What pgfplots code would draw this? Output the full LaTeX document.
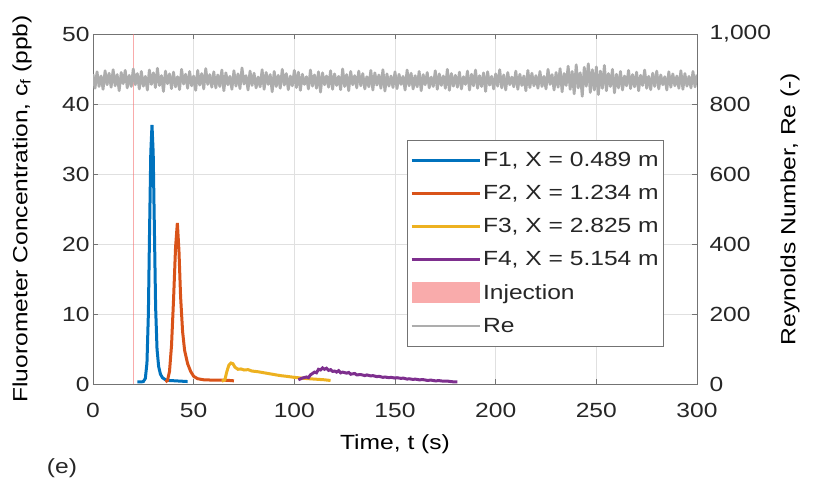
\documentclass[border=0pt]{standalone}
\usepackage{fontspec}
\setmainfont{Liberation Sans}[FakeStretch=1.2]
\usepackage{pgfplots}
\pgfplotsset{compat=1.18}
\definecolor{cF1}{rgb}{0,0.447,0.741}
\definecolor{cF2}{rgb}{0.85,0.325,0.098}
\definecolor{cF3}{rgb}{0.929,0.694,0.125}
\definecolor{cF4}{rgb}{0.494,0.184,0.556}
\definecolor{cRe}{rgb}{0.68,0.68,0.68}
\definecolor{cInj}{rgb}{0.96,0.45,0.45}
\newcommand{\fnt}{\fontsize{20.5}{24}\selectfont}
\pgfplotsset{
  lineleg/.style={legend image code/.code={\draw[##1] (0pt,0pt) -- (68pt,0pt);}},
  injleg/.style={legend image code/.code={\fill[##1] (0pt,-10pt) rectangle (68pt,11pt);}},
}
\begin{document}
\begin{tikzpicture}[font=\fnt]
\path[use as bounding box] (-93pt,-97pt) rectangle (733pt,384pt);
% ---------- left axis: concentrations ----------
\begin{axis}[
  at={(0pt,0pt)}, anchor=south west,
  scale only axis, width=604pt, height=350pt,
  xmin=0, xmax=300, ymin=0, ymax=50,
  xtick={0,50,...,300}, ytick={0,10,...,50},
  ytick pos=left,
  tick align=inside, major tick length=5pt,
  grid=major, grid style={black!12, line width=0.6pt},
  axis line style={black!55, line width=0.8pt},
  tick style={black!55, line width=0.8pt},
  tick label style={font=\fnt, text=black!85},
  label style={font=\fnt, text=black!85},
  /pgf/number format/assume math mode=true,
  xticklabel style={yshift=-16pt},
  xlabel={Time, t (s)},
  ylabel={Fluorometer Concentration, c$_\mathrm{f}$ (ppb)},
  every axis x label/.style={at={(axis description cs:0.5,-0.171)}, anchor=center},
  every axis y label/.style={at={(axis description cs:-0.1175,0.5)}, rotate=90, anchor=center},
  legend style={at={(0.9455,0.697)}, anchor=north east, draw=black!55, line width=0.7pt,
    fill=white, font=\fnt, text=black!85, row sep=13.2pt, inner xsep=3pt, inner ysep=10pt},
  legend cell align=left,
  lineleg,
  clip=true,
]
\addplot[cF1, line width=3pt] coordinates {
(22,0.3)(24,0.3)(25,0.35)(26,0.8)(26.8,3)(27.5,10)(28.1,22)(28.7,33)(29.3,37)(29.9,33)(30.5,22)(31.1,11)(31.8,5)(32.6,2.5)(33.5,1.4)(34.5,0.9)(36,0.6)(38,0.5)(41,0.45)(44,0.4)(47,0.35)};
\addlegendentry{F1, X = 0.489 m}
\addplot[cF2, line width=3pt] coordinates {
(36,0.3)(37,0.5)(38,1.8)(39,5.5)(40,12)(41,19.5)(41.9,23)(42.7,19)(43.5,12.5)(44.5,7.5)(45.5,4.8)(47,2.9)(48.5,1.8)(50,1.1)(52,0.75)(55,0.6)(60,0.55)(65,0.55)(68,0.5)(70,0.45)};
\addlegendentry{F2, X = 1.234 m}
\addplot[cF3, line width=3pt] coordinates {
(64,0.4)(65.5,0.6)(66.5,1.8)(67.5,2.7)(68.5,3.0)(69.5,2.9)(70.5,2.4)(72,2.1)(73.5,2.15)(75,2.0)(77,2.05)(79,1.85)(82,1.75)(84,1.65)(86,1.55)(88,1.45)(90,1.35)(93,1.2)(96,1.1)(100,0.95)(105,0.8)(110,0.7)(115,0.6)(118,0.5)};
\addlegendentry{F3, X = 2.825 m}
\addplot[cF4, line width=3pt] coordinates {
(102,0.6)(104,0.85)(106,1.0)(107,0.9)(108,1.3)(110,1.7)(111,1.6)(112,2.1)(113,2.0)(114,2.3)(115,2.1)(116,2.25)(117,1.95)(118,2.05)(119,1.8)(120,1.85)(121,1.7)(122,1.9)(123,1.6)(124,1.7)(126,1.55)(127,1.65)(128,1.4)(130,1.5)(131,1.3)(133,1.35)(135,1.2)(136,1.3)(138,1.15)(139,1.2)(141,1.05)(142,1.1)(144,0.95)(145,1.0)(147,0.9)(148,0.95)(150,0.85)(151,0.9)(153,0.8)(154,0.85)(156,0.7)(157,0.75)(159,0.65)(160,0.7)(162,0.6)(164,0.62)(166,0.52)(168,0.55)(170,0.45)(172,0.48)(174,0.4)(176,0.42)(178,0.33)(180,0.3)(181,0.3)};
\addlegendentry{F4, X = 5.154 m}
\addplot[fill=cInj, fill opacity=0.6, draw=none, injleg]
  coordinates {(19.8,0)(19.8,50)(20.5,50)(20.5,0)} -- cycle;
\addlegendentry{Injection}
\addlegendimage{cRe, line width=2pt}
\addlegendentry{Re}
\end{axis}
\node[anchor=center, text=black!85] at (-31pt,-84pt) {(e)};
% ---------- right axis: Reynolds number ----------
\begin{axis}[
  at={(0pt,0pt)}, anchor=south west,
  scale only axis, width=604pt, height=350pt,
  xmin=0, xmax=300, ymin=0, ymax=1000,
  axis x line=none,
  axis y line*=right,
  ytick={0,200,...,1000},
  tick align=inside, major tick length=5pt,
  axis line style={black!55, line width=0.8pt},
  tick style={black!55, line width=0.8pt},
  tick label style={font=\fnt, text=black!85},
  label style={font=\fnt, text=black!85},
  /pgf/number format/assume math mode=true,
  /pgf/number format/1000 sep={,},
  yticklabel style={xshift=9pt},
  ylabel={Reynolds Number, Re (-)},
  every axis y label/.style={at={(axis description cs:1.154,0.5)}, rotate=90, anchor=center},
]
\addplot[cRe, line width=2.8pt, line join=round] coordinates {
(0,885)(1,845)(2,892)(3,850)(4,880)(5,842)(6,895)(7,855)(8,888)(9,848)
(10,898)(11,852)(12,884)(13,838)(14,890)(15,858)(16,896)(17,846)(18,882)(19,850)
(20,900)(21,855)(22,887)(23,843)(24,893)(25,851)(26,879)(27,840)(28,897)(29,856)
(30,889)(31,847)(32,902)(33,853)(34,881)(35,836)(36,894)(37,858)(38,886)(39,844)
(40,891)(41,849)(42,878)(43,841)(44,899)(45,857)(46,885)(47,845)(48,893)(49,852)
(50,880)(51,839)(52,896)(53,854)(54,887)(55,843)(56,901)(57,856)(58,884)(59,848)
(60,892)(61,846)(62,883)(63,850)(64,897)(65,838)(66,889)(67,855)(68,879)(69,842)
(70,895)(71,851)(72,886)(73,844)(74,903)(75,857)(76,881)(77,840)(78,894)(79,853)
(80,888)(81,846)(82,877)(83,849)(84,898)(85,842)(86,890)(87,856)(88,884)(89,835)
(90,893)(91,850)(92,882)(93,845)(94,899)(95,854)(96,887)(97,841)(98,880)(99,852)
(100,896)(101,847)(102,891)(103,839)(104,885)(105,856)(106,878)(107,843)(108,897)(109,851)
(110,883)(111,845)(112,892)(113,834)(114,889)(115,855)(116,880)(117,848)(118,895)(119,842)
(120,886)(121,853)(122,879)(123,841)(124,900)(125,850)(126,884)(127,838)(128,893)(129,855)
(130,881)(131,846)(132,894)(133,852)(134,887)(135,843)(136,878)(137,849)(138,896)(139,840)
(140,889)(141,854)(142,883)(143,845)(144,898)(145,837)(146,886)(147,851)(148,880)(149,847)
(150,892)(151,844)(152,885)(153,856)(154,879)(155,840)(156,897)(157,852)(158,888)(159,843)
(160,881)(161,849)(162,893)(163,838)(164,884)(165,855)(166,890)(167,846)(168,877)(169,850)
(170,895)(171,842)(172,886)(173,853)(174,880)(175,845)(176,899)(177,839)(178,887)(179,851)
(180,882)(181,848)(182,891)(183,843)(184,878)(185,856)(186,894)(187,840)(188,885)(189,852)
(190,897)(191,845)(192,881)(193,850)(194,889)(195,836)(196,892)(197,854)(198,879)(199,843)
(200,886)(201,851)(202,898)(203,846)(204,883)(205,840)(206,890)(207,855)(208,877)(209,849)
(210,894)(211,842)(212,885)(213,853)(214,880)(215,838)(216,896)(217,847)(218,888)(219,852)
(220,881)(221,845)(222,893)(223,850)(224,879)(225,843)(226,899)(227,856)(228,884)(229,840)
(230,890)(231,848)(232,901)(233,835)(234,887)(235,853)(236,908)(237,842)(238,893)(239,829)
(240,912)(241,846)(242,889)(243,822)(244,905)(245,851)(246,915)(247,833)(248,898)(249,840)
(250,906)(251,827)(252,894)(253,845)(254,910)(255,838)(256,887)(257,850)(258,899)(259,832)
(260,885)(261,846)(262,893)(263,840)(264,880)(265,852)(266,896)(267,844)(268,884)(269,849)
(270,891)(271,838)(272,882)(273,853)(274,897)(275,845)(276,879)(277,841)(278,888)(279,850)
(280,894)(281,843)(282,883)(283,855)(284,878)(285,840)(286,892)(287,848)(288,886)(289,852)
(290,880)(291,845)(292,895)(293,842)(294,887)(295,851)(296,879)(297,846)(298,893)(299,849)(300,884)};
\end{axis}
\end{tikzpicture}
\end{document}
